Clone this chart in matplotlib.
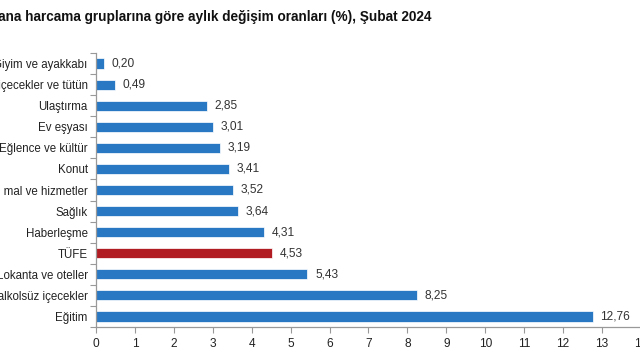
import matplotlib
matplotlib.use("Agg")
import matplotlib.pyplot as plt
import numpy as np

plt.rcParams['font.family'] = ['Liberation Sans', 'DejaVu Sans']

categories = ["Giyim ve ayakkabı", "Alkollü içecekler ve tütün", "Ulaştırma", "Ev eşyası",
              "Eğlence ve kültür", "Konut", "Çeşitli mal ve hizmetler", "Sağlık",
              "Haberleşme", "TÜFE", "Lokanta ve oteller", "Gıda ve alkolsüz içecekler", "Eğitim"]
values = [0.20, 0.49, 2.85, 3.01, 3.19, 3.41, 3.52, 3.64, 4.31, 4.53, 5.43, 8.25, 12.76]
value_labels = ["0,20", "0,49", "2,85", "3,01", "3,19", "3,41", "3,52", "3,64", "4,31", "4,53", "5,43", "8,25", "12,76"]
xticks = list(range(0, 15))
title = "TÜFE ana harcama gruplarına göre aylık değişim oranları (%), Şubat 2024"

blue = "#2878c4"
red = "#b01c22"
colors = [red if c == "TÜFE" else blue for c in categories]

fig = plt.figure(figsize=(6.4, 3.6), dpi=100)
ax = fig.add_axes([96/640, (360-327)/360, 545/640, (327-53)/360])

y = np.arange(len(categories))
ax.barh(y, values, height=0.48, color=colors, edgecolor='white', linewidth=0.5)
ax.set_ylim(len(categories) - 0.5, -0.5)
ax.set_xlim(0, 14)

for yi, v, lab in zip(y, values, value_labels):
    ax.text(v + 0.2, yi, lab, va='center', ha='left', fontsize=8.6, color='#333333')

ax.set_yticks(y)
ax.set_yticklabels(categories, fontsize=8.3, color='#222222')
ax.set_yticks(np.arange(-0.5, len(categories), 1), minor=True)
ax.tick_params(axis='y', which='major', length=0, pad=6)
ax.tick_params(axis='y', which='minor', length=4, color='#999999', width=0.8)
ax.set_xticks(xticks)
ax.set_xticklabels([str(t) for t in xticks], fontsize=8.6, color='#222222')
ax.tick_params(axis='x', length=4, color='#999999', width=0.8, pad=4)

for s in ['top', 'right']:
    ax.spines[s].set_visible(False)
for s in ['left', 'bottom']:
    ax.spines[s].set_color('#999999')
    ax.spines[s].set_linewidth(0.9)

fig.text(-41/640, 1 - 16/360, title, fontsize=9.8, fontweight='bold', va='center', ha='left', color='#111111')

fig.savefig("out.png", dpi=100)
